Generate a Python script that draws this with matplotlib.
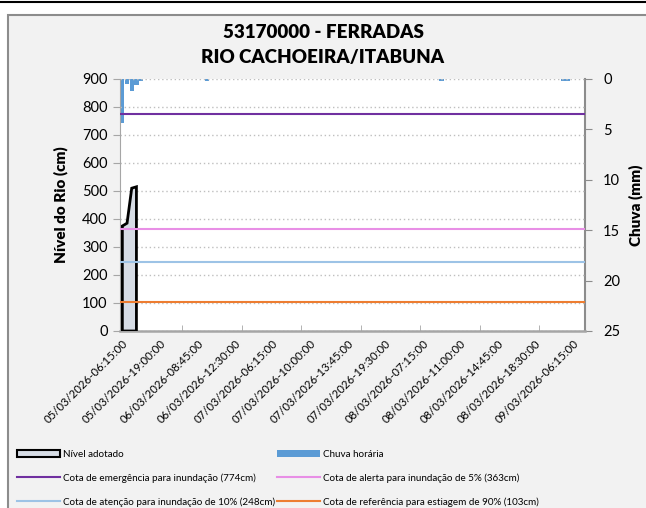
import numpy as np
import matplotlib
matplotlib.use("Agg")
import matplotlib.pyplot as plt
from matplotlib.patches import Patch, Rectangle
from matplotlib.lines import Line2D

plt.rcParams['font.family'] = ['Lato', 'DejaVu Sans']

# categorias (intervalos de 15 min, com falhas) - só os rótulos visíveis
n_cat = 100
tick_labels = ['05/03/2026-06:15:00', '05/03/2026-19:00:00', '06/03/2026-08:45:00',
               '06/03/2026-12:30:00', '07/03/2026-06:15:00', '07/03/2026-10:00:00',
               '07/03/2026-13:45:00', '07/03/2026-19:30:00', '08/03/2026-07:15:00',
               '08/03/2026-11:00:00', '08/03/2026-14:45:00', '08/03/2026-18:30:00',
               '09/03/2026-06:15:00']
label_step = 8

# nível adotado (cm) - só existem as primeiras leituras
nivel = [375, 385, 510, 515]

# chuva horária (mm), posição da categoria e valor
chuva_idx = [0, 1, 2, 3, 4, 18, 68, 94, 95]
chuva_mm = [4.4, 0.5, 1.2, 0.6, 0.2, 0.15, 0.2, 0.2, 0.2]

# cotas de referência (cm)
cotas = [774, 363, 248, 103]
cotas_cor = ['#7030a0', '#e88fe6', '#9dc3e6', '#ed7d31']
cotas_txt = ['Cota de emergência para inundação (774cm)',
             'Cota de alerta para inundação de 5% (363cm)',
             'Cota de atenção para inundação de 10% (248cm)',
             'Cota de referência para estiagem de 90% (103cm)']

chuva = np.zeros(n_cat)
chuva[chuva_idx] = chuva_mm
x_nivel = np.arange(len(nivel))

fig = plt.figure(figsize=(6.46, 5.08), dpi=100, facecolor='white')

# moldura do gráfico (estilo planilha)
fig.add_artist(Rectangle((8 / 646, -0.1), 1.0, 1 - 15 / 508 + 0.1, transform=fig.transFigure,
                         facecolor='#f2f2f2', edgecolor='#8c8c8c', lw=1.5, zorder=0))
fig.add_artist(Line2D([0, 1], [1 - 2 / 508, 1 - 2 / 508], transform=fig.transFigure,
                      color='black', lw=1.5))

ax = fig.add_axes([120 / 646, 1 - 331 / 508, 465 / 646, 252 / 508])
ax.set_facecolor('white')
ax2 = ax.twinx()
ax.set_zorder(ax2.get_zorder() + 1)
ax.patch.set_visible(False)
ax2.patch.set_visible(True)
ax2.patch.set_facecolor('white')

# chuva no eixo secundário invertido
ax2.bar(np.arange(n_cat), chuva, width=0.9, color='#5b9bd5', zorder=2)
ax2.set_ylim(25, 0)
ax2.set_yticks(np.arange(0, 26, 5))

# nível como área com contorno preto
ax.fill(np.r_[x_nivel[0], x_nivel, x_nivel[-1]], np.r_[0, nivel, 0],
        facecolor='#d6dce5', edgecolor='black', lw=2, zorder=3)
for c, cor in zip(cotas, cotas_cor):
    ax.axhline(c, color=cor, lw=1.5, zorder=4)

ax.set_xlim(-0.5, 98.6)
ax.set_ylim(0, 900)
ax.set_yticks(np.arange(0, 901, 100))
ax.yaxis.grid(True, linestyle=(0, (1, 2)), color='#bfbfbf', lw=1)
ax.set_axisbelow(True)

ax.set_xticks(np.arange(0, n_cat, label_step)[:len(tick_labels)])
ax.set_xticklabels(tick_labels, rotation=45, ha='right', va='top',
                   rotation_mode='anchor', fontsize=8.2)
ax.tick_params(axis='x', length=0, pad=5)
ax.set_xticks(np.arange(1, 8) * 12.7, minor=True)
ax.tick_params(axis='x', which='minor', direction='in', length=4, color='#a6a6a6')
ax.tick_params(axis='y', length=5, color='#a6a6a6', labelsize=10.5, pad=4)
ax2.tick_params(axis='y', length=5, color='#8c8c8c', labelsize=10.5, pad=8)

for s in ['top', 'right']:
    ax.spines[s].set_visible(False)
ax.spines['left'].set_linestyle((0, (1, 1)))
ax.spines['left'].set_color('#a6a6a6')
ax.spines['bottom'].set_color('#a6a6a6')
ax.spines['bottom'].set_linewidth(1.8)
for s in ['top', 'left', 'bottom']:
    ax2.spines[s].set_visible(False)
ax2.spines['right'].set_color('#8c8c8c')
ax2.spines['right'].set_linewidth(1.5)

ax.set_ylabel('Nível do Rio (cm)', fontsize=11, fontweight='heavy', labelpad=10)
ax2.set_ylabel('Chuva (mm)', fontsize=11, fontweight='heavy', labelpad=6)

fig.text(0.5, 1 - 32 / 508, '53170000 - FERRADAS', ha='center', va='center',
         fontsize=13.5, fontweight='heavy')
fig.text(0.5, 1 - 57 / 508, 'RIO CACHOEIRA/ITABUNA', ha='center', va='center',
         fontsize=13.5, fontweight='heavy')

# legenda em duas colunas
h_col1 = [Patch(facecolor='#d6dce5', edgecolor='black', lw=1.5)] + \
         [Line2D([], [], color=cotas_cor[i], lw=1.5) for i in (0, 2)]
t_col1 = ['Nível adotado', cotas_txt[0], cotas_txt[2]]
h_col2 = [Patch(facecolor='#5b9bd5', edgecolor='none')] + \
         [Line2D([], [], color=cotas_cor[i], lw=1.5) for i in (1, 3)]
t_col2 = ['Chuva horária', cotas_txt[1], cotas_txt[3]]
for hs, ts, x0 in [(h_col1, t_col1, 17), (h_col2, t_col2, 277)]:
    fig.legend(hs, ts, loc='upper left', bbox_to_anchor=(x0 / 646, 1 - 450 / 508),
               frameon=False, fontsize=7.1, handlelength=4.4, handletextpad=0.25,
               labelspacing=1.45, borderpad=0, borderaxespad=0)

fig.savefig('out.png', dpi=100, facecolor=fig.get_facecolor())
